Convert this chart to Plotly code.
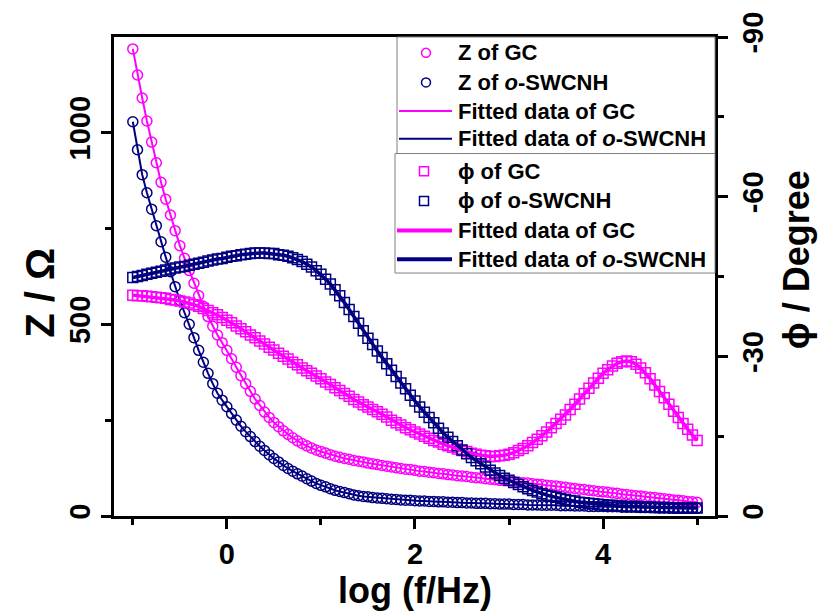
import plotly.graph_objects as go

# Frequency sweep, log10(f / Hz), 20 points per decade from 0.1 Hz to 100 kHz
log_f = [
    -1.00, -0.95, -0.90, -0.85, -0.80, -0.75, -0.70, -0.65, -0.60, -0.55,
    -0.50, -0.45, -0.40, -0.35, -0.30, -0.25, -0.20, -0.15, -0.10, -0.05,
    0.00, 0.05, 0.10, 0.15, 0.20, 0.25, 0.30, 0.35, 0.40, 0.45,
    0.50, 0.55, 0.60, 0.65, 0.70, 0.75, 0.80, 0.85, 0.90, 0.95,
    1.00, 1.05, 1.10, 1.15, 1.20, 1.25, 1.30, 1.35, 1.40, 1.45,
    1.50, 1.55, 1.60, 1.65, 1.70, 1.75, 1.80, 1.85, 1.90, 1.95,
    2.00, 2.05, 2.10, 2.15, 2.20, 2.25, 2.30, 2.35, 2.40, 2.45,
    2.50, 2.55, 2.60, 2.65, 2.70, 2.75, 2.80, 2.85, 2.90, 2.95,
    3.00, 3.05, 3.10, 3.15, 3.20, 3.25, 3.30, 3.35, 3.40, 3.45,
    3.50, 3.55, 3.60, 3.65, 3.70, 3.75, 3.80, 3.85, 3.90, 3.95,
    4.00, 4.05, 4.10, 4.15, 4.20, 4.25, 4.30, 4.35, 4.40, 4.45,
    4.50, 4.55, 4.60, 4.65, 4.70, 4.75, 4.80, 4.85, 4.90, 4.95,
    5.00,
]

# |Z| in ohm
z_gc = [
    1218, 1150, 1090, 1030, 975, 921, 870, 826, 785, 744,
    705, 672, 640, 607, 575, 547, 520, 495, 472, 452,
    432, 410, 388, 366, 345, 325, 305, 288, 271, 257,
    244, 233, 222, 213, 204, 196, 189, 183, 177, 172,
    168, 164, 160, 156, 153, 150, 148, 145, 143, 141,
    138, 136, 134, 132, 130, 128, 126, 124, 122, 121,
    119, 117, 116, 114, 113, 111, 110, 108, 107, 105,
    104, 103, 101, 100, 99, 97, 96, 95, 93, 92,
    91, 90, 88, 87, 86, 84, 83, 82, 80, 79,
    78, 76, 75, 73, 72, 70, 69, 67, 66, 64,
    63, 62, 60, 59, 57, 56, 54, 53, 52, 50,
    49, 48, 46, 45, 44, 42, 41, 40, 38, 37,
    36,
]
z_swcnh = [
    1028, 955, 890, 843, 800, 757, 715, 675, 637, 598,
    562, 530, 500, 465, 432, 401, 372, 345, 320, 302,
    285, 267, 250, 234, 220, 207, 194, 182, 171, 160,
    150, 141, 132, 124, 117, 110, 104, 97, 91, 85,
    80, 76, 71, 67, 64, 61, 58, 55, 53, 51,
    50, 48, 47, 46, 45, 44, 43, 42, 41, 41,
    40, 39, 39, 38, 38, 37, 37, 36, 36, 35,
    35, 34, 34, 33, 33, 33, 32, 32, 31, 31,
    31, 30, 30, 30, 29, 29, 29, 28, 28, 28,
    28, 27, 27, 27, 26, 26, 26, 25, 25, 25,
    25, 24, 24, 24, 23, 23, 23, 23, 22, 22,
    22, 22, 21, 21, 21, 21, 20, 20, 20, 20,
    20,
]

# Phase angle in degrees
phi_gc = [
    -41.5, -41.4, -41.4, -41.3, -41.2, -41.1, -41.0, -40.9, -40.7, -40.6,
    -40.4, -40.2, -40.0, -39.7, -39.4, -39.0, -38.6, -38.2, -37.8, -37.3,
    -36.8, -36.3, -35.7, -35.2, -34.6, -34.0, -33.5, -32.9, -32.3, -31.7,
    -31.2, -30.6, -30.0, -29.5, -28.9, -28.4, -27.8, -27.3, -26.8, -26.3,
    -25.8, -25.2, -24.7, -24.1, -23.6, -23.0, -22.5, -21.9, -21.4, -20.9,
    -20.5, -20.0, -19.6, -19.1, -18.6, -18.0, -17.5, -17.1, -16.6, -16.2,
    -15.8, -15.4, -15.0, -14.6, -14.2, -13.9, -13.5, -13.2, -12.9, -12.6,
    -12.3, -12.1, -11.8, -11.6, -11.4, -11.3, -11.2, -11.2, -11.3, -11.4,
    -11.6, -11.9, -12.3, -12.7, -13.2, -13.8, -14.4, -15.1, -15.8, -16.6,
    -17.4, -18.2, -19.0, -20.0, -21.0, -22.0, -23.0, -24.0, -25.0, -25.9,
    -26.8, -27.5, -28.2, -28.7, -29.0, -29.1, -29.0, -28.5, -27.8, -26.9,
    -25.8, -24.6, -23.4, -22.2, -21.0, -19.7, -18.5, -17.4, -16.3, -15.2,
    -14.2,
]
phi_swcnh = [
    -44.8, -45.0, -45.2, -45.4, -45.6, -45.8, -46.0, -46.2, -46.4, -46.6,
    -46.8, -46.9, -47.1, -47.3, -47.5, -47.7, -47.9, -48.1, -48.3, -48.4,
    -48.6, -48.8, -48.9, -49.1, -49.2, -49.3, -49.4, -49.4, -49.4, -49.3,
    -49.3, -49.1, -49.0, -48.8, -48.5, -48.2, -47.8, -47.3, -46.8, -46.1,
    -45.4, -44.5, -43.6, -42.5, -41.4, -40.1, -38.8, -37.5, -36.2, -34.8,
    -33.4, -32.2, -31.0, -29.8, -28.6, -27.4, -26.2, -25.0, -23.9, -22.7,
    -21.6, -20.5, -19.5, -18.5, -17.5, -16.5, -15.6, -14.8, -14.0, -13.2,
    -12.4, -11.7, -11.0, -10.4, -9.8, -9.2, -8.6, -8.1, -7.6, -7.1,
    -6.7, -6.3, -5.9, -5.5, -5.1, -4.8, -4.5, -4.2, -3.9, -3.7,
    -3.5, -3.3, -3.1, -2.9, -2.8, -2.6, -2.5, -2.4, -2.3, -2.2,
    -2.1, -2.0, -2.0, -1.9, -1.9, -1.8, -1.8, -1.8, -1.7, -1.7,
    -1.7, -1.6, -1.6, -1.6, -1.6, -1.5, -1.5, -1.5, -1.5, -1.5,
    -1.5,
]

# Axis ticks
x_ticks = [0, 2, 4]
z_ticks = [0, 500, 1000]
phi_ticks = [0, -30, -60, -90]
phi_minor = [-15, -45, -75]

MAGENTA = "#FF00FF"
NAVY = "#000080"
FONT = "Liberation Sans, Arial, sans-serif"

# Plot-area geometry in pixels (used to place the legend boxes)
W, H = 819, 614
ML, MR, MT, MB = 114, 104, 31, 98
PW, PH = W - ML - MR, H - MT - MB


def px(x):
    return (x - ML) / PW


def py(y):
    return (H - MB - y) / PH


fig = go.Figure()

# Impedance modulus (left axis)
fig.add_trace(go.Scatter(
    x=log_f, y=z_gc, mode="markers", name="Z of GC", showlegend=False,
    marker=dict(symbol="circle-open", size=10, color=MAGENTA, line=dict(width=1.5)),
))
fig.add_trace(go.Scatter(
    x=log_f, y=z_swcnh, mode="markers", name="Z of o-SWCNH", showlegend=False,
    marker=dict(symbol="circle-open", size=10, color=NAVY, line=dict(width=1.5)),
))
fig.add_trace(go.Scatter(
    x=log_f, y=z_gc, mode="lines", name="Fitted data of GC", showlegend=False,
    line=dict(color=MAGENTA, width=2),
))
fig.add_trace(go.Scatter(
    x=log_f, y=z_swcnh, mode="lines", name="Fitted data of o-SWCNH", showlegend=False,
    line=dict(color=NAVY, width=2),
))

# Phase angle (right axis)
fig.add_trace(go.Scatter(
    x=log_f, y=phi_gc, mode="markers", name="ϕ of GC", yaxis="y2", showlegend=False,
    marker=dict(symbol="square-open", size=10, color=MAGENTA, line=dict(width=1.5)),
))
fig.add_trace(go.Scatter(
    x=log_f, y=phi_swcnh, mode="markers", name="ϕ of o-SWCNH", yaxis="y2", showlegend=False,
    marker=dict(symbol="square-open", size=10, color=NAVY, line=dict(width=1.5)),
))
fig.add_trace(go.Scatter(
    x=log_f, y=phi_gc, mode="lines", name="Fitted data of GC", yaxis="y2", showlegend=False,
    line=dict(color=MAGENTA, width=3.5),
))
fig.add_trace(go.Scatter(
    x=log_f, y=phi_swcnh, mode="lines", name="Fitted data of o-SWCNH", yaxis="y2",
    showlegend=False, line=dict(color=NAVY, width=3.5),
))

# Two boxed keys: impedance series, then phase series
legend_font = dict(family=FONT, size=22, color="black", weight="bold")
keys = [
    # (box left, box top, box bottom, rows)
    (397, 31, 149, [
        ("circle", MAGENTA, "Z of GC", 47),
        ("circle", NAVY, "Z of <i>o</i>-SWCNH", 77),
        ("line", MAGENTA, "Fitted data of GC", 106),
        ("line", NAVY, "Fitted data of <i>o</i>-SWCNH", 134),
    ]),
    (395, 149, 270, [
        ("square", MAGENTA, "ϕ of GC", 167),
        ("square", NAVY, "ϕ of o-SWCNH", 197),
        ("thick", MAGENTA, "Fitted data of GC", 227),
        ("thick", NAVY, "Fitted data of <i>o</i>-SWCNH", 256),
    ]),
]
shapes, annotations = [], []
for left, top, bottom, rows in keys:
    shapes.append(dict(type="rect", xref="paper", yref="paper", layer="above",
                       x0=px(left), x1=px(ML + PW), y0=py(bottom), y1=py(top),
                       fillcolor="white", line=dict(color="#808080", width=1)))
    for kind, color, label, yc in rows:
        if kind in ("circle", "square"):
            cx = 426 if kind == "circle" else 424
            shapes.append(dict(type="circle" if kind == "circle" else "rect",
                               xref="paper", yref="paper", layer="above",
                               x0=px(cx - 4.5), x1=px(cx + 4.5),
                               y0=py(yc + 4.5), y1=py(yc - 4.5),
                               line=dict(color=color, width=1.5)))
        else:
            thick = kind == "thick"
            shapes.append(dict(type="line", xref="paper", yref="paper", layer="above",
                               x0=px(left + 2), x1=px(452), y0=py(yc), y1=py(yc),
                               line=dict(color=color, width=4 if thick else 2)))
        annotations.append(dict(text=label, xref="paper", yref="paper",
                                x=px(456), y=py(yc), xanchor="left", yanchor="middle",
                                showarrow=False, font=legend_font))

title_font = dict(family=FONT, size=36, color="black", weight="bold")
annotations += [
    dict(text="log (f/Hz)", xref="paper", yref="paper", x=px(415), y=py(591),
         xanchor="center", yanchor="middle", showarrow=False, font=title_font),
    dict(text="Z / Ω", xref="paper", yref="paper", x=px(40), y=py(290),
         xanchor="center", yanchor="middle", showarrow=False, textangle=-90,
         font=dict(title_font, size=40)),
    dict(text="ϕ / Degree", xref="paper", yref="paper", x=px(796), y=py(257),
         xanchor="center", yanchor="middle", showarrow=False, textangle=-90,
         font=title_font),
]

tick_font = dict(family=FONT, size=29, color="black", weight="bold")
axis_common = dict(
    showgrid=False, zeroline=False, showline=True, linecolor="black", linewidth=2.5,
    ticks="outside", ticklen=10, tickwidth=2.5, tickcolor="black", tickfont=tick_font,
)
minor_common = dict(ticks="outside", ticklen=6, tickwidth=2.5, tickcolor="black")

fig.update_layout(
    width=W, height=H,
    margin=dict(l=ML, r=MR, t=MT, b=MB),
    paper_bgcolor="white", plot_bgcolor="white",
    font=dict(family=FONT, color="black", weight="bold"),
    showlegend=False,
    xaxis=dict(
        range=[-1.2, 5.19], tickmode="array", tickvals=x_ticks,
        ticktext=[str(v) for v in x_ticks], mirror=True,
        minor=dict(dtick=1, tick0=0, **minor_common),
        **axis_common,
    ),
    yaxis=dict(
        range=[0, 1249], tickmode="array", tickvals=z_ticks,
        ticktext=[str(v) for v in z_ticks], tickangle=-90,
        minor=dict(dtick=250, tick0=0, **minor_common),
        **axis_common,
    ),
    yaxis2=dict(
        overlaying="y", side="right", range=[0, -90], tickmode="array",
        tickvals=phi_ticks, ticktext=[str(v) for v in phi_ticks], tickangle=-90,
        minor=dict(tickmode="array", tickvals=phi_minor, **minor_common),
        **axis_common,
    ),
    shapes=shapes,
    annotations=annotations,
)

fig.write_html("out.html")
